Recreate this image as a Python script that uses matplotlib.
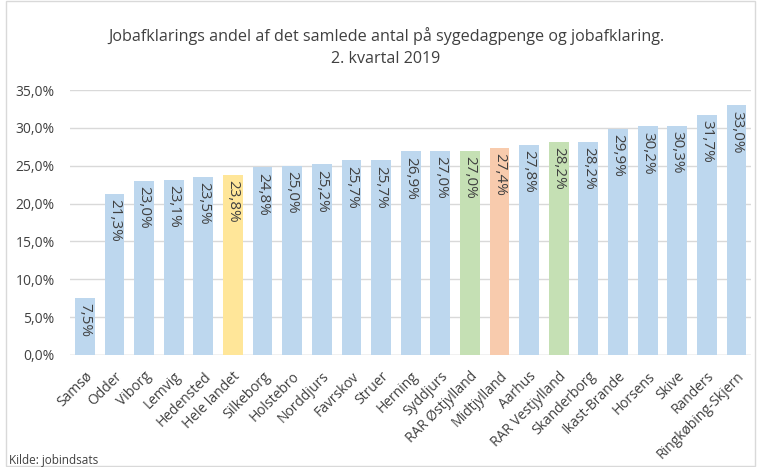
import numpy as np
import matplotlib.pyplot as plt
from matplotlib.patches import Rectangle

plt.rcParams['font.family'] = ['Open Sans', 'DejaVu Sans']

# data
kommuner = ['Samsø', 'Odder', 'Viborg', 'Lemvig', 'Hedensted', 'Hele landet',
            'Silkeborg', 'Holstebro', 'Norddjurs', 'Favrskov', 'Struer', 'Herning',
            'Syddjurs', 'RAR Østjylland', 'Midtjylland', 'Aarhus', 'RAR Vestjylland',
            'Skanderborg', 'Ikast-Brande', 'Horsens', 'Skive', 'Randers',
            'Ringkøbing-Skjern']
andel = [7.5, 21.3, 23.0, 23.1, 23.5, 23.8, 24.8, 25.0, 25.2, 25.7, 25.7, 26.9,
         27.0, 27.0, 27.4, 27.8, 28.2, 28.2, 29.9, 30.2, 30.3, 31.7, 33.0]
yticks = [0, 5, 10, 15, 20, 25, 30, 35]

blue = '#BDD7EE'
special = {'Hele landet': '#FFE699', 'RAR Østjylland': '#C5E0B4',
           'Midtjylland': '#F8CBAD', 'RAR Vestjylland': '#C5E0B4'}
colors = [special.get(k, blue) for k in kommuner]
txt = '#404040'

fig = plt.figure(figsize=(7.57, 4.67), dpi=100)
ax = fig.add_axes([0.0925, 0.240, 0.900, 0.567])

x = np.arange(len(kommuner))
bars = ax.bar(x, andel, width=0.67, color=colors, zorder=2)

for xi, v in zip(x, andel):
    ax.text(xi, v - 0.7, f'{v:.1f}%'.replace('.', ','), rotation=-90,
            ha='center', va='top', fontsize=11, color=txt, zorder=3)

ax.set_xlim(-0.5, len(kommuner) - 0.5)
ax.set_ylim(0, 35)
ax.set_yticks(yticks)
ax.set_yticklabels([f'{t:.1f}%'.replace('.', ',') for t in yticks], fontsize=10, color=txt)
ax.set_xticks(x)
ax.set_xticklabels(kommuner, rotation=45, ha='right', rotation_mode='anchor',
                   fontsize=10, color=txt)
ax.tick_params(axis='y', length=0, pad=11)
ax.tick_params(axis='x', length=0, pad=10)
ax.grid(axis='y', color='#D9D9D9', linewidth=1, zorder=0)
for s in ax.spines.values():
    s.set_visible(False)
ax.axhline(0, color='#D9D9D9', linewidth=1, zorder=1)

fig.text(0.51, 0.9, 'Jobafklarings andel af det samlede antal på sygedagpenge og jobafklaring.\n2. kvartal 2019',
         ha='center', va='center', fontsize=11.6, color=txt, linespacing=1.5)
fig.text(0.012, 0.006, 'Kilde: jobindsats', fontsize=8.5, color=txt)

fig.patches.append(Rectangle((0.008, 0.003), 0.99, 0.994, transform=fig.transFigure,
                             fill=False, edgecolor='#D9D9D9', linewidth=1))

fig.savefig('out.png', dpi=100)
